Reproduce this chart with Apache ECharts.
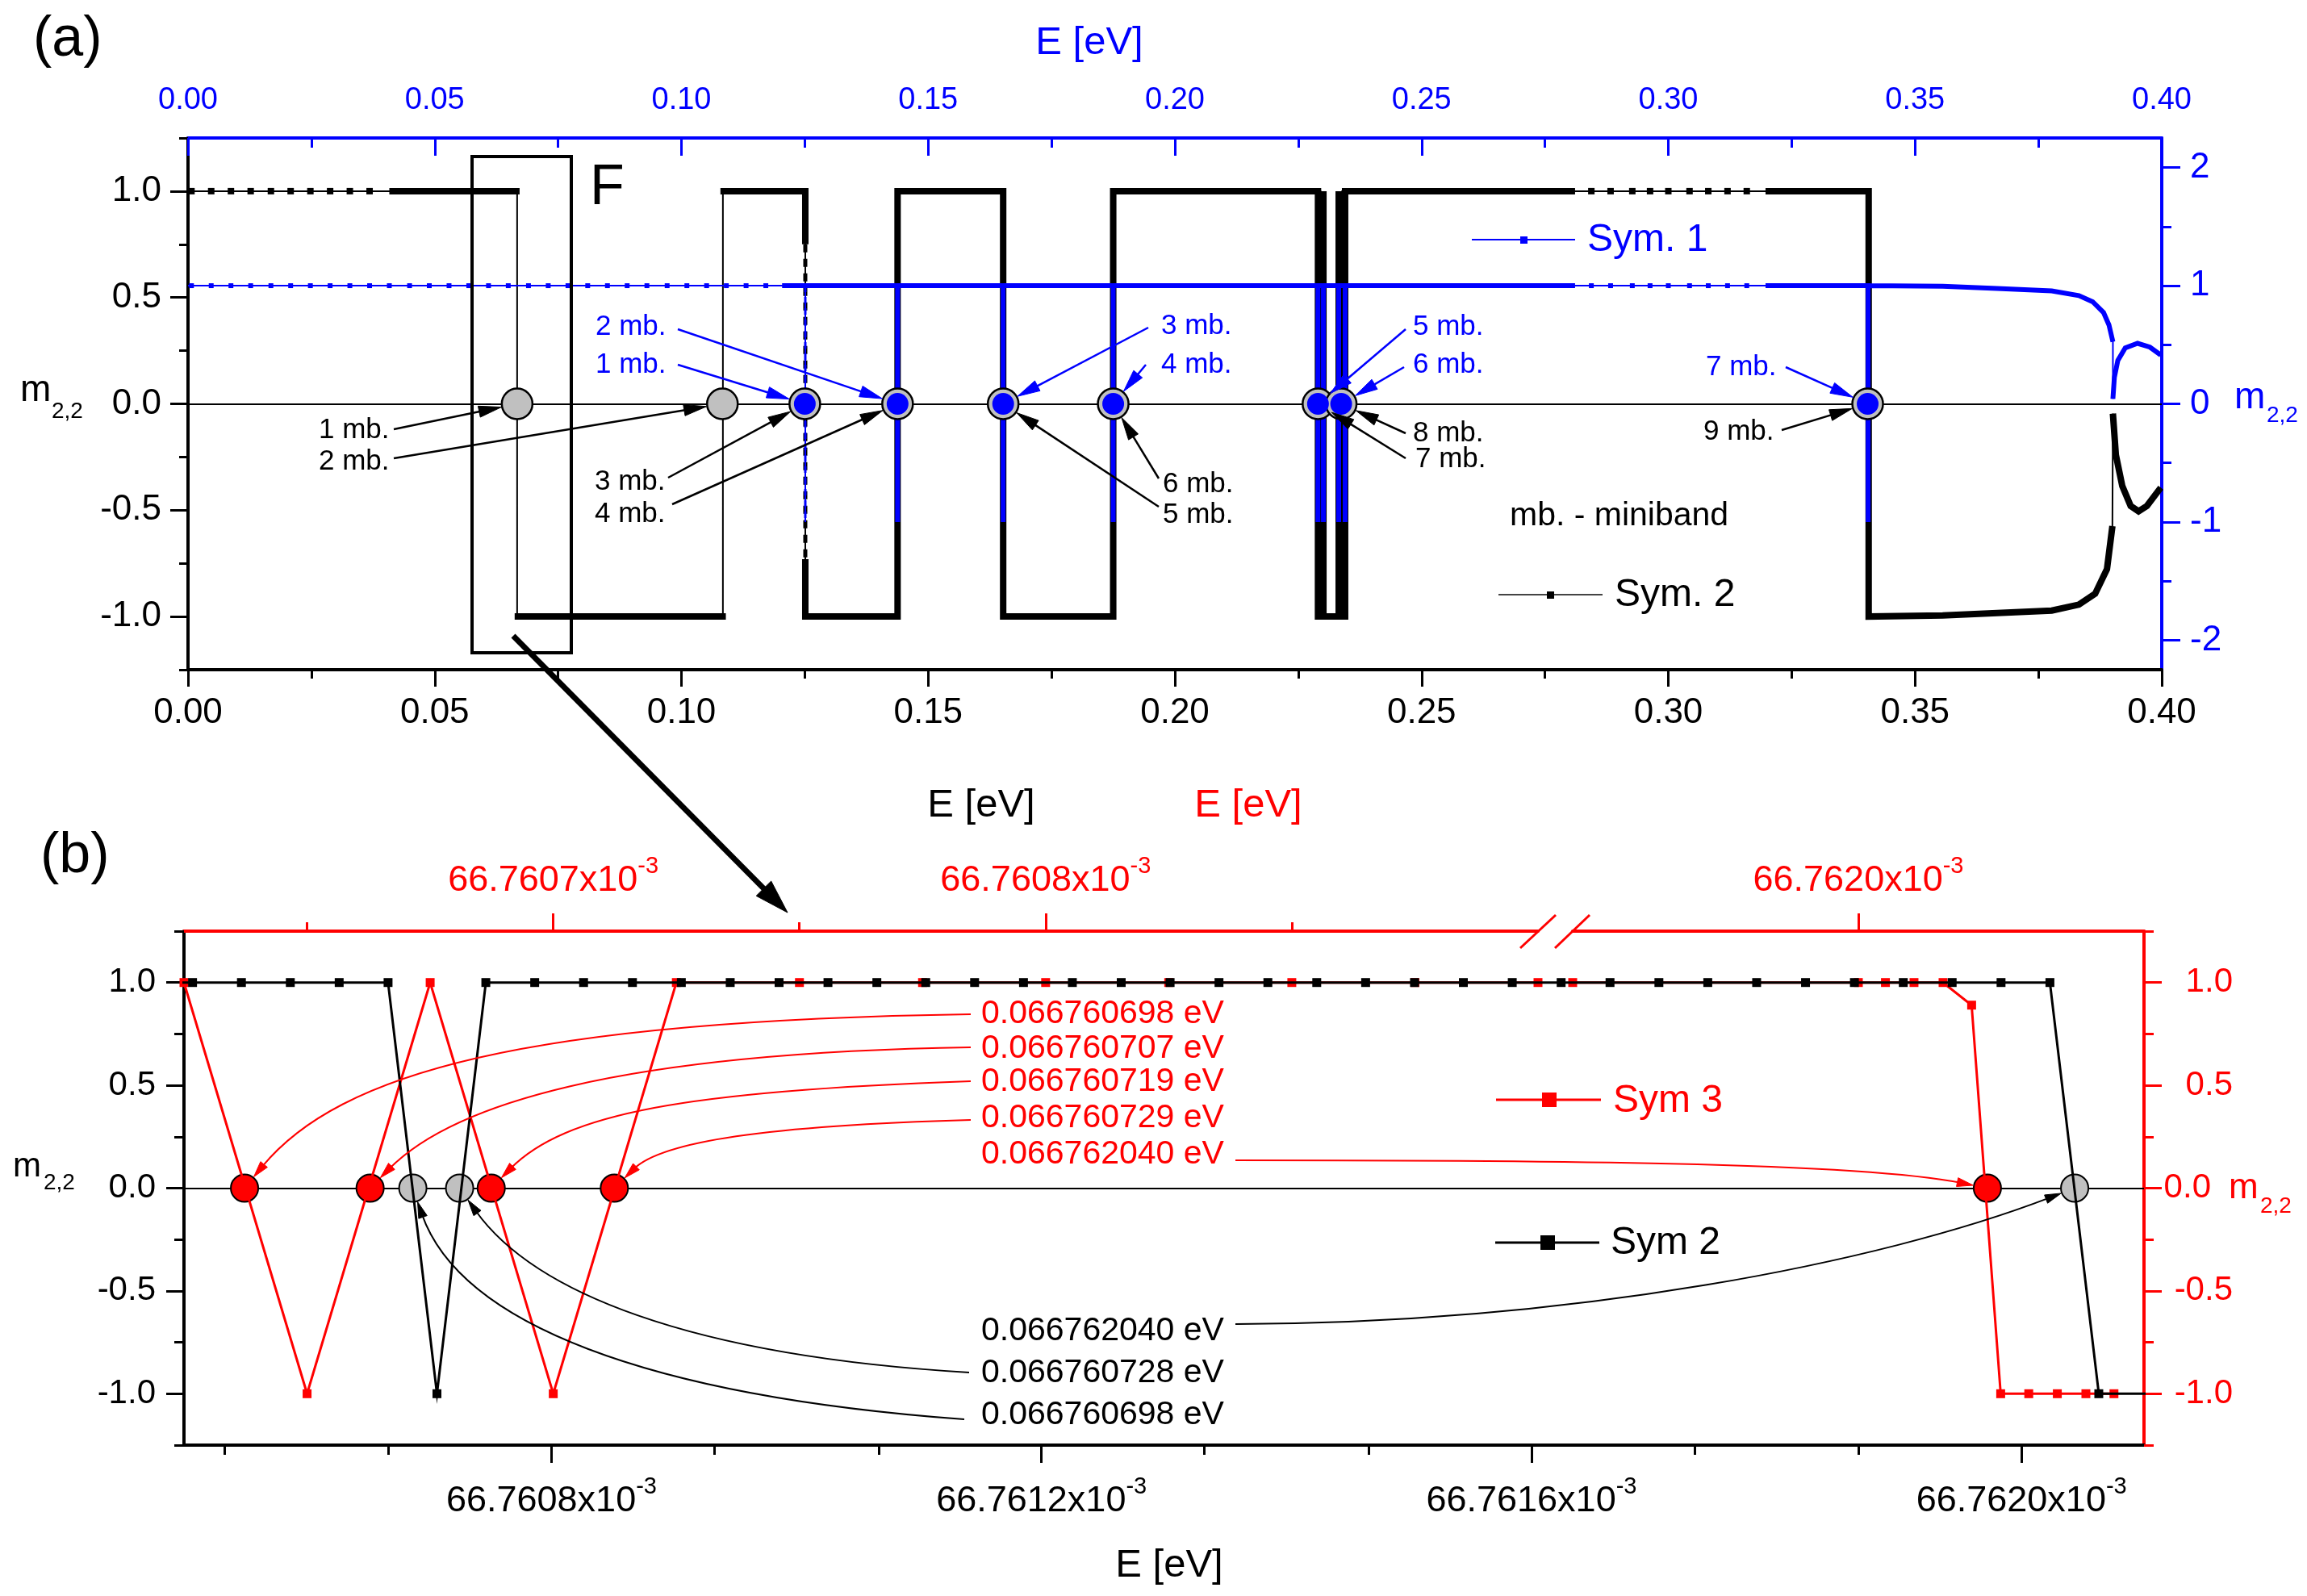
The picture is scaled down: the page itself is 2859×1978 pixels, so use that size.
<!DOCTYPE html>
<html>
<head>
<meta charset="utf-8">
<title>m22 vs E</title>
<script src="https://cdn.jsdelivr.net/npm/echarts@6.0.0/dist/echarts.min.js"></script>
<style>
html,body{margin:0;padding:0;background:#ffffff;}
#chart{width:2859px;height:1978px;}
</style>
</head>
<body>
<div id="chart"></div>
<script>
const FF = "'Liberation Sans', Arial, Helvetica, sans-serif";
const BLUE = '#0000ff', RED = '#ff0000', BLACK = '#000000', GRAY = '#c0c0c0';

// ================= Panel (a) =================
const aLeftTicks  = [-1, -0.5, 0, 0.5, 1];
const aLeftMinor  = [-1.25, -0.75, -0.25, 0.25, 0.75, 1.25];
const aRightTicks = [-2, -1, 0, 1, 2];
const aRightMinor = [-1.5, -0.5, 0.5, 1.5];

// Sym. 2 (black, left axis) - sparse squares
const sym2SparseE = [0.0007, 0.0047, 0.0087, 0.0127, 0.0168, 0.0208, 0.0248, 0.0288, 0.0328, 0.0368,
                     0.2844, 0.2883, 0.2927, 0.2963, 0.3000, 0.3043, 0.3081, 0.3120, 0.3159];
const sym2SparseM = [1, 1, 1, 1, 1, 1, 1, 1, 1, 1, 1, 1, 1, 1, 1, 1, 1, 1, 1];
// Sym. 2 full path (thin)
const sym2PathE = [0, 0.0667, 0.0667, 0.1084, 0.1084, 0.1251, 0.1251, 0.1438, 0.1438, 0.1652, 0.1652,
                   0.1875, 0.1875, 0.2295, 0.2295, 0.2339, 0.2339, 0.3406, 0.3406, 0.3556, 0.3777,
                   0.3832, 0.3865, 0.3889, 0.3900, 0.3901, 0.3907, 0.3920, 0.3937, 0.3953, 0.3970, 0.3998];
const sym2PathM = [1, 1, -1, -1, 1, 1, -1, -1, 1, 1, -1,
                   -1, 1, 1, -1, -1, 1, 1, -1, -0.995, -0.972,
                   -0.944, -0.893, -0.777, -0.575, -0.046, -0.24, -0.386, -0.48, -0.505, -0.48, -0.394];
// Sym. 2 dense (thick) stretches
const sym2ThickSegs = [
  {e: [0.0408, 0.0672], m: [1, 1]},
  {e: [0.0662, 0.1090], m: [-1, -1]},
  {e: [0.1079, 0.1251, 0.1251], m: [1, 1, 0.75]},
  {e: [0.1251, 0.1251, 0.1438, 0.1438, 0.1652, 0.1652, 0.1875, 0.1875, 0.2290, 0.2290, 0.2345, 0.2345, 0.2811],
   m: [-0.73, -1, -1, 1, 1, -1, -1, 1, 1, -1, -1, 1, 1]},
  {e: [0.2301, 0.2301], m: [1, -1]},
  {e: [0.2332, 0.2332], m: [-1, 1]},
  {e: [0.3197, 0.3406, 0.3406, 0.3556, 0.3777, 0.3832, 0.3865, 0.3889, 0.3900],
   m: [1, 1, -1, -0.995, -0.972, -0.944, -0.893, -0.777, -0.575]},
  {e: [0.3901, 0.3907, 0.3920, 0.3937, 0.3953, 0.3970, 0.3998],
   m: [-0.046, -0.24, -0.386, -0.48, -0.505, -0.48, -0.394]}
];
const sym2DashE = [0.1251, 0.1251];
const sym2DashM = [0.75, -0.73];

// Sym. 1 (blue, right axis)
const sym1SparseE = [0.0007, 0.0047, 0.0087, 0.0127, 0.0168, 0.0208, 0.0248, 0.0288, 0.0328, 0.0368,
                     0.0408, 0.0449, 0.0489, 0.0529, 0.0569, 0.0609, 0.0649, 0.0690, 0.0730, 0.0770,
                     0.0810, 0.0850, 0.0890, 0.0930, 0.0971, 0.1011, 0.1051, 0.1091, 0.1131, 0.1171,
                     0.2844, 0.2883, 0.2927, 0.2963, 0.3000, 0.3043, 0.3081, 0.3120, 0.3159];
const sym1SparseV = [1, 1, 1, 1, 1, 1, 1, 1, 1, 1, 1, 1, 1, 1, 1, 1, 1, 1, 1, 1,
                     1, 1, 1, 1, 1, 1, 1, 1, 1, 1, 1, 1, 1, 1, 1, 1, 1, 1, 1];
const sym1PathE = [0, 0.1251, 0.1251, 0.1251, 0.1438, 0.1438, 0.1438, 0.1652, 0.1652, 0.1652,
                   0.1875, 0.1875, 0.1875, 0.2290, 0.2290, 0.2290, 0.2301, 0.2301, 0.2301,
                   0.2332, 0.2332, 0.2332, 0.2345, 0.2345, 0.2345, 0.3405, 0.3405, 0.3405,
                   0.3556, 0.3666, 0.3777, 0.3832, 0.3860, 0.3882, 0.3893, 0.3901,
                   0.3901, 0.3904, 0.3911, 0.3926, 0.3951, 0.3976, 0.3998];
const sym1PathV = [1, 1, -1, 1, 1, -1, 1, 1, -1, 1,
                   1, -1, 1, 1, -1, 1, 1, -1, 1,
                   1, -1, 1, 1, -1, 1, 1, -1, 1,
                   0.995, 0.977, 0.956, 0.916, 0.864, 0.773, 0.668, 0.525,
                   0.042, 0.225, 0.368, 0.473, 0.512, 0.48, 0.413];
const sym1ThickSegs = [
  {e: [0.1204, 0.1438, 0.1438, 0.1438, 0.1652, 0.1652, 0.1652, 0.1875, 0.1875, 0.1875, 0.2290, 0.2290, 0.2290,
       0.2301, 0.2301, 0.2301, 0.2332, 0.2332, 0.2332, 0.2345, 0.2345, 0.2345, 0.2811],
   v: [1, 1, -1, 1, 1, -1, 1, 1, -1, 1, 1, -1, 1, 1, -1, 1, 1, -1, 1, 1, -1, 1, 1]},
  {e: [0.3197, 0.3405, 0.3405, 0.3405, 0.3556, 0.3666, 0.3777, 0.3832, 0.3860, 0.3882, 0.3893, 0.3901],
   v: [1, 1, -1, 1, 0.995, 0.977, 0.956, 0.916, 0.864, 0.773, 0.668, 0.525]},
  {e: [0.3901, 0.3904, 0.3911, 0.3926, 0.3951, 0.3976, 0.3998],
   v: [0.042, 0.225, 0.368, 0.473, 0.512, 0.48, 0.413]}
];
const sym1DashE = [0.1251, 0.1251];
const sym1DashV = [1, -1];

const aGrayCircleE = [0.0667, 0.1083];
const aBlueCircleE = [0.1250, 0.1438, 0.1652, 0.1875, 0.2290, 0.2337, 0.3404];

// annotations (a): text, text-left x, text-middle y, arrow tail, circle index
const aBlackNotes = [
  {t: '1 mb.', x: 395,  y: 533, tail: [488, 532],  gray: 0},
  {t: '2 mb.', x: 395,  y: 572, tail: [488, 568],  gray: 1},
  {t: '3 mb.', x: 737,  y: 597, tail: [828, 592],  blue: 0},
  {t: '4 mb.', x: 737,  y: 637, tail: [833, 625],  blue: 1},
  {t: '6 mb.', x: 1441, y: 600, tail: [1436, 593], blue: 3},
  {t: '5 mb.', x: 1441, y: 638, tail: [1436, 628], blue: 2},
  {t: '8 mb.', x: 1751, y: 537, tail: [1742, 537], blue: 5},
  {t: '7 mb.', x: 1754, y: 569, tail: [1742, 568], blue: 4},
  {t: '9 mb.', x: 2111, y: 535, tail: [2208, 533], blue: 6}
];
const aBlueNotes = [
  {t: '2 mb.', x: 738,  y: 405, tail: [840, 408],  blue: 1},
  {t: '1 mb.', x: 738,  y: 452, tail: [840, 452],  blue: 0},
  {t: '3 mb.', x: 1439, y: 404, tail: [1423, 406], blue: 2},
  {t: '4 mb.', x: 1439, y: 452, tail: [1420, 452], blue: 3},
  {t: '5 mb.', x: 1751, y: 405, tail: [1742, 408], blue: 4},
  {t: '6 mb.', x: 1751, y: 452, tail: [1740, 455], blue: 5},
  {t: '7 mb.', x: 2114, y: 455, tail: [2213, 455], blue: 6}
];

// ================= Panel (b) =================  (E in units of 10^-3 eV)
const bBottomTicks  = [66.7608, 66.7612, 66.7616, 66.7620];
const bBottomMinor  = [66.760533, 66.760667, 66.760933, 66.761067, 66.761333, 66.761467, 66.761733, 66.761867];
const bTopLeftTicks = [66.7607, 66.7608];
const bTopLeftMinor = [66.76065, 66.76075, 66.76085];
const bTopRightTicks = [66.7620];
const bYTicks = [-1, -0.5, 0, 0.5, 1];
const bYMinor = [-1.25, -0.75, -0.25, 0.25, 0.75, 1.25];

// Sym 2 (black, bottom axis)
const sym2bE = [66.7604671, 66.760507, 66.7605469, 66.7605868, 66.7606267, 66.7606666, 66.7607065, 66.7607464,
                66.7607863, 66.7608262, 66.7608661, 66.760906, 66.7609459, 66.7609858, 66.7610257, 66.7610656,
                66.7611055, 66.7611454, 66.7611853, 66.7612252, 66.7612651, 66.761305, 66.7613449, 66.7613848,
                66.7614247, 66.7614646, 66.7615045, 66.7615444, 66.7615843, 66.7616242, 66.7616641, 66.761704,
                66.7617439, 66.7617838, 66.7618237, 66.7618636, 66.7619035, 66.7619434, 66.7619833, 66.7620232,
                66.7620631, 66.762103];
const sym2bM = [1, 1, 1, 1, 1, 1, -1, 1,
                1, 1, 1, 1, 1, 1, 1, 1,
                1, 1, 1, 1, 1, 1, 1, 1,
                1, 1, 1, 1, 1, 1, 1, 1,
                1, 1, 1, 1, 1, 1, 1, 1,
                -1, -1];
// Sym 3 (red, top axis, two segments around the break)
const sym3LeftE = [66.760625, 66.76065, 66.760675, 66.7607, 66.760725, 66.76075, 66.760775, 66.7608,
                   66.760825, 66.76085, 66.760875, 66.7609];
const sym3LeftM = [1, -1, 1, -1, 1, 1, 1, 1, 1, 1, 1, 1];
const sym3RightE = [66.761942, 66.762, 66.7620055, 66.7620113, 66.7620172, 66.762023, 66.7620289,
                    66.7620346, 66.7620404, 66.7620462, 66.7620519];
const sym3RightM = [1, 1, 1, 1, 1, 0.89, -1, -1, -1, -1, -1];

const bRedCircleLeftE  = [66.7606373, 66.7606628, 66.7606874, 66.7607124];
const bRedCircleRightE = [66.7620262];
const bGrayCircleE     = [66.7606868, 66.760725, 66.7620434];

const bRedNotes   = ['0.066760698 eV', '0.066760707 eV', '0.066760719 eV', '0.066760729 eV', '0.066762040 eV'];
const bBlackNotes = ['0.066762040 eV', '0.066760728 eV', '0.066760698 eV'];

// ================= chart =================
const chart = echarts.init(document.getElementById('chart'), null, {renderer: 'canvas', width: 2859, height: 1978});
const pairs = (xs, ys) => xs.map((x, i) => [x, ys[i]]);

function lineS(data, xi, yi, color, width, z, extra) {
  return Object.assign({
    type: 'line', data: data, xAxisIndex: xi, yAxisIndex: yi, symbol: 'none', showSymbol: false,
    lineStyle: {color: color, width: width, cap: 'butt', join: 'miter'}, itemStyle: {color: color},
    z: z, silent: true, animation: false, clip: true
  }, extra || {});
}
function dotS(data, xi, yi, size, fill, border, bw, z, sym) {
  return {
    type: 'scatter', data: data, xAxisIndex: xi, yAxisIndex: yi, symbol: sym || 'circle', symbolSize: size,
    itemStyle: {color: fill, borderColor: border, borderWidth: bw, opacity: 1}, z: z, silent: true, animation: false
  };
}
function zeroLine(color) {
  return {silent: true, symbol: ['none', 'none'], z: 1, label: {show: false}, animation: false,
          lineStyle: {color: color, width: 2, type: 'solid'}, emphasis: {disabled: true}, data: [{yAxis: 0}]};
}
function sci(color) {
  return {
    formatter: v => '{a|' + v.toFixed(4) + 'x10}{s|-3}',
    rich: {
      a: {fontSize: 45, fontFamily: FF, color: color, lineHeight: 65},
      s: {fontSize: 29, fontFamily: FF, color: color, lineHeight: 29, verticalAlign: 'top'}
    }
  };
}
const noSplit = {splitLine: {show: false}, minorSplitLine: {show: false}, axisPointer: {show: false}};

function axis(o) { return Object.assign({type: 'value'}, noSplit, o); }
function minorAxis(gi, pos, min, max, vals, len, color, inside) {
  return axis({gridIndex: gi, position: pos, min: min, max: max,
    axisLine: {show: false, onZero: false},
    axisTick: {show: true, inside: !!inside, customValues: vals, length: len, lineStyle: {color: color, width: 3}},
    axisLabel: {show: false}});
}

const xAxis = [
  axis({gridIndex: 0, position: 'bottom', min: 0, max: 0.4, interval: 0.05,
    axisLine: {show: true, onZero: false, lineStyle: {color: BLACK, width: 4}},
    axisTick: {show: true, inside: false, length: 21, lineStyle: {color: BLACK, width: 3}},
    minorTick: {show: true, splitNumber: 2, length: 11, lineStyle: {color: BLACK, width: 3}},
    axisLabel: {show: true, margin: 32, fontSize: 44, fontFamily: FF, color: BLACK, formatter: v => v.toFixed(2)}}),
  axis({gridIndex: 0, position: 'top', min: 0, max: 0.4, interval: 0.05,
    axisLine: {show: true, onZero: false, lineStyle: {color: BLUE, width: 4}},
    axisTick: {show: true, inside: true, length: 22, lineStyle: {color: BLUE, width: 3}},
    minorTick: {show: true, splitNumber: 2, length: 12, lineStyle: {color: BLUE, width: 3}},
    axisLabel: {show: true, margin: 27, fontSize: 38, fontFamily: FF, color: BLUE, formatter: v => v.toFixed(2)}}),
  axis({gridIndex: 1, position: 'bottom', min: 66.7605, max: 66.7621,
    axisLine: {show: true, onZero: false, lineStyle: {color: BLACK, width: 4}},
    axisTick: {show: true, inside: false, customValues: bBottomTicks, length: 22, lineStyle: {color: BLACK, width: 3}},
    axisLabel: Object.assign({show: true, margin: 37, customValues: bBottomTicks}, sci(BLACK))}),
  minorAxis(1, 'bottom', 66.7605, 66.7621, bBottomMinor, 12, BLACK),
  axis({gridIndex: 2, position: 'top', min: 66.760625, max: 66.7609,
    axisLine: {show: true, onZero: false, lineStyle: {color: RED, width: 4}},
    axisTick: {show: true, inside: false, customValues: bTopLeftTicks, length: 22, lineStyle: {color: RED, width: 3}},
    axisLabel: Object.assign({show: true, margin: 30, customValues: bTopLeftTicks}, sci(RED))}),
  minorAxis(2, 'top', 66.760625, 66.7609, bTopLeftMinor, 11, RED),
  axis({gridIndex: 3, position: 'top', min: 66.761942, max: 66.762058,
    axisLine: {show: true, onZero: false, lineStyle: {color: RED, width: 4}},
    axisTick: {show: true, inside: false, customValues: bTopRightTicks, length: 22, lineStyle: {color: RED, width: 3}},
    axisLabel: Object.assign({show: true, margin: 30, customValues: bTopRightTicks}, sci(RED))})
];

const yAxis = [
  axis({gridIndex: 0, position: 'left', min: -1.25, max: 1.25,
    axisLine: {show: true, onZero: false, lineStyle: {color: BLACK, width: 4}},
    axisTick: {show: true, inside: false, customValues: aLeftTicks, length: 22, lineStyle: {color: BLACK, width: 3}},
    axisLabel: {show: true, customValues: aLeftTicks, margin: 33, fontSize: 44, fontFamily: FF, color: BLACK, formatter: v => v.toFixed(1)}}),
  minorAxis(0, 'left', -1.25, 1.25, aLeftMinor, 11, BLACK),
  axis({gridIndex: 0, position: 'right', min: -2.25, max: 2.25,
    axisLine: {show: true, onZero: false, lineStyle: {color: BLUE, width: 4}},
    axisTick: {show: true, inside: false, customValues: aRightTicks, length: 23, lineStyle: {color: BLUE, width: 3}},
    axisLabel: {show: true, customValues: aRightTicks, margin: 35, fontSize: 44, fontFamily: FF, color: BLUE, formatter: v => String(v)}}),
  minorAxis(0, 'right', -2.25, 2.25, aRightMinor, 12, BLUE),
  axis({gridIndex: 1, position: 'left', min: -1.25, max: 1.25,
    axisLine: {show: true, onZero: false, lineStyle: {color: BLACK, width: 4}},
    axisTick: {show: true, inside: false, customValues: bYTicks, length: 22, lineStyle: {color: BLACK, width: 3}},
    axisLabel: {show: true, customValues: bYTicks, margin: 35, fontSize: 42, fontFamily: FF, color: BLACK, formatter: v => v.toFixed(1)}}),
  minorAxis(1, 'left', -1.25, 1.25, bYMinor, 12, BLACK),
  axis({gridIndex: 1, position: 'right', min: -1.25, max: 1.25,
    axisLine: {show: true, onZero: false, lineStyle: {color: RED, width: 4}},
    axisTick: {show: true, inside: false, customValues: bYTicks, length: 22, lineStyle: {color: RED, width: 3}},
    axisLabel: {show: true, customValues: bYTicks, margin: 110, align: 'right', fontSize: 42, fontFamily: FF, color: RED,
      formatter: v => (Math.abs(v) < 1e-9 ? '{z|0.0}' : v.toFixed(1)),
      rich: {z: {fontSize: 42, fontFamily: FF, color: RED, padding: [0, 27, 0, 0]}}}}),
  minorAxis(1, 'right', -1.25, 1.25, bYMinor, 12, RED),
  axis({gridIndex: 2, show: false, min: -1.25, max: 1.25}),
  axis({gridIndex: 3, show: false, min: -1.25, max: 1.25})
];

const series = [];
// ---- (a) Sym. 2 black
series.push(lineS(pairs(sym2PathE, sym2PathM), 0, 0, BLACK, 2, 2, {markLine: zeroLine(BLACK)}));
sym2ThickSegs.forEach(s => series.push(lineS(pairs(s.e, s.m), 0, 0, BLACK, 8, 2)));
series.push(lineS(pairs(sym2DashE, sym2DashM), 0, 0, BLACK, 5, 2, {lineStyle: {color: BLACK, width: 5, type: [10, 8]}}));
series.push(dotS(pairs(sym2SparseE, sym2SparseM), 0, 0, 8, BLACK, BLACK, 0, 2, 'rect'));
// ---- (a) Sym. 1 blue
series.push(lineS(pairs(sym1PathE, sym1PathV), 1, 2, BLUE, 2, 3));
sym1ThickSegs.forEach(s => series.push(lineS(pairs(s.e, s.v), 1, 2, BLUE, 6, 3)));
series.push(lineS(pairs(sym1DashE, sym1DashV), 1, 2, BLUE, 3, 3, {lineStyle: {color: BLUE, width: 3, type: [8, 6]}}));
series.push(dotS(pairs(sym1SparseE, sym1SparseV), 1, 2, 6, BLUE, BLUE, 0, 3, 'rect'));
// ---- (a) circles
series.push(dotS(aGrayCircleE.map(e => [e, 0]), 0, 0, 38, GRAY, BLACK, 2.5, 6));
series.push(dotS(aBlueCircleE.map(e => [e, 0]), 0, 0, 38, GRAY, BLACK, 2.5, 6));
series.push(dotS(aBlueCircleE.map(e => [e, 0]), 0, 0, 27, BLUE, BLUE, 0, 7));

// ---- (b)
series.push(dotS(bGrayCircleE.map(e => [e, 0]), 2, 4, 34, GRAY, BLACK, 2, 2));
series.push(dotS(bRedCircleLeftE.map(e => [e, 0]), 4, 8, 34, RED, BLACK, 2, 2));
series.push(dotS(bRedCircleRightE.map(e => [e, 0]), 6, 9, 34, RED, BLACK, 2, 2));
series.push(lineS(pairs(sym3LeftE, sym3LeftM), 4, 8, RED, 3, 3,
  {symbol: 'rect', showSymbol: true, symbolSize: 11, itemStyle: {color: RED, borderWidth: 0}}));
series.push(lineS(pairs(sym3RightE, sym3RightM), 6, 9, RED, 3, 3,
  {symbol: 'rect', showSymbol: true, symbolSize: 11, itemStyle: {color: RED, borderWidth: 0}}));
series.push(lineS(pairs(sym2bE, sym2bM), 2, 4, BLACK, 3, 4,
  {symbol: 'rect', showSymbol: true, symbolSize: 11, itemStyle: {color: BLACK, borderWidth: 0}, markLine: zeroLine(BLACK)}));

const gridBase = {containLabel: false, outerBoundsMode: 'none', show: false};
chart.setOption({
  animation: false,
  backgroundColor: '#ffffff',
  textStyle: {fontFamily: FF},
  grid: [
    Object.assign({left: 233, top: 171, width: 2446, height: 659}, gridBase),
    Object.assign({left: 228, top: 1154, width: 2429, height: 637}, gridBase),
    Object.assign({left: 228, top: 1154, width: 1678, height: 637}, gridBase),
    Object.assign({left: 1949, top: 1154, width: 708, height: 637}, gridBase)
  ],
  xAxis: xAxis,
  yAxis: yAxis,
  series: series
});

// ================= annotations =================
function txt(text, x, y, size, color, align) {
  const a = align || 'left';
  return {type: 'text', x: x, y: y, z: 100, silent: true,
    style: {text: text, fontSize: size, fontFamily: FF, fill: color, align: a, verticalAlign: 'middle',
            textAlign: a, textVerticalAlign: 'middle'}};
}
function head(tip, ux, uy, hl, hw, color) {
  const bx = tip[0] - ux * hl, by = tip[1] - uy * hl;
  return {type: 'polygon', z: 100, silent: true,
    shape: {points: [[tip[0], tip[1]], [bx - uy * hw / 2, by + ux * hw / 2], [bx + uy * hw / 2, by - ux * hw / 2]]},
    style: {fill: color, stroke: color, lineWidth: 1}};
}
function arrow(p0, tip, color, w, hl, hw) {
  const dx = tip[0] - p0[0], dy = tip[1] - p0[1], L = Math.hypot(dx, dy), ux = dx / L, uy = dy / L;
  return [
    {type: 'line', z: 100, silent: true, shape: {x1: p0[0], y1: p0[1], x2: tip[0] - ux * hl * 0.8, y2: tip[1] - uy * hl * 0.8},
     style: {stroke: color, lineWidth: w, fill: 'none'}},
    head(tip, ux, uy, hl, hw, color)
  ];
}
function curveArrow(p0, c1, c2, tip, color, w, hl, hw) {
  const dx = tip[0] - c2[0], dy = tip[1] - c2[1], L = Math.hypot(dx, dy), ux = dx / L, uy = dy / L;
  const b = [tip[0] - ux * hl * 0.8, tip[1] - uy * hl * 0.8];
  return [
    {type: 'bezierCurve', z: 100, silent: true,
     shape: {x1: p0[0], y1: p0[1], x2: b[0], y2: b[1], cpx1: c1[0], cpy1: c1[1], cpx2: c2[0], cpy2: c2[1]},
     style: {stroke: color, lineWidth: w, fill: 'none'}},
    head(tip, ux, uy, hl, hw, color)
  ];
}
function edgeToward(center, from, r) {
  const dx = from[0] - center[0], dy = from[1] - center[1], L = Math.hypot(dx, dy);
  return [center[0] + dx / L * r, center[1] + dy / L * r];
}
const px = (xi, yi, x, y) => chart.convertToPixel({xAxisIndex: xi, yAxisIndex: yi}, [x, y]);

const G = [];
// panel labels and axis titles
G.push(txt('(a)', 41, 50, 70, BLACK));
G.push(txt('(b)', 50, 1062, 70, BLACK));
G.push(txt('E [eV]', 1350, 53, 49, BLUE, 'center'));
G.push(txt('E [eV]', 1216, 998, 49, BLACK, 'center'));
G.push(txt('E [eV]', 1547, 998, 49, RED, 'center'));
G.push(txt('E [eV]', 1449, 1940, 49, BLACK, 'center'));
// m_{2,2}
G.push(txt('m', 25, 484, 46, BLACK));   G.push(txt('2,2', 64, 510, 28, BLACK));
G.push(txt('m', 2769, 493, 46, BLUE));  G.push(txt('2,2', 2809, 515, 28, BLUE));
G.push(txt('m', 16, 1446, 42, BLACK));  G.push(txt('2,2', 54, 1466, 28, BLACK));
G.push(txt('m', 2762, 1473, 44, RED));  G.push(txt('2,2', 2801, 1495, 28, RED));

// F box and zoom arrow
G.push({type: 'rect', z: 90, silent: true, shape: {x: 585, y: 194, width: 123, height: 615}, style: {fill: 'none', stroke: BLACK, lineWidth: 4}});
G.push(txt('F', 731, 234, 70, BLACK));
arrow([636, 788], [976, 1131], BLACK, 7, 42, 26).forEach(e => G.push(e));

// (a) annotations
const aGrayPx = aGrayCircleE.map(e => px(0, 0, e, 0));
const aBluePx = aBlueCircleE.map(e => px(0, 0, e, 0));
aBlackNotes.forEach(n => {
  G.push(txt(n.t, n.x, n.y, 35, BLACK));
  const c = n.gray !== undefined ? aGrayPx[n.gray] : aBluePx[n.blue];
  arrow(n.tail, edgeToward(c, n.tail, 20), BLACK, 2.5, 28, 14).forEach(e => G.push(e));
});
aBlueNotes.forEach(n => {
  G.push(txt(n.t, n.x, n.y, 35, BLUE));
  const c = aBluePx[n.blue];
  arrow(n.tail, edgeToward(c, n.tail, 20), BLUE, 2.5, 28, 14).forEach(e => G.push(e));
});
G.push(txt('mb. - miniband', 1871, 640, 41, BLACK));
// legend (a)
G.push({type: 'line', z: 100, silent: true, shape: {x1: 1824, y1: 297, x2: 1952, y2: 297}, style: {stroke: BLUE, lineWidth: 2}});
G.push({type: 'rect', z: 101, silent: true, shape: {x: 1884, y: 293, width: 9, height: 9}, style: {fill: BLUE}});
G.push(txt('Sym. 1', 1967, 298, 48, BLUE));
G.push({type: 'line', z: 100, silent: true, shape: {x1: 1857, y1: 737, x2: 1986, y2: 737}, style: {stroke: '#444444', lineWidth: 2}});
G.push({type: 'rect', z: 101, silent: true, shape: {x: 1917, y: 733, width: 9, height: 9}, style: {fill: BLACK}});
G.push(txt('Sym. 2', 2001, 738, 48, BLACK));

// (b) break marks on top axis
G.push({type: 'line', z: 100, silent: true, shape: {x1: 1884, y1: 1175, x2: 1928, y2: 1134}, style: {stroke: RED, lineWidth: 3}});
G.push({type: 'line', z: 100, silent: true, shape: {x1: 1927, y1: 1175, x2: 1970, y2: 1134}, style: {stroke: RED, lineWidth: 3}});

// (b) notes
const redLPx = bRedCircleLeftE.map(e => px(4, 8, e, 0));
const redRPx = bRedCircleRightE.map(e => px(6, 9, e, 0));
const grayBPx = bGrayCircleE.map(e => px(2, 4, e, 0));
const redY = [1257, 1300, 1341, 1386, 1431];
bRedNotes.forEach((t, i) => G.push(txt(t, 1216, redY[i], 41, RED)));
const blackY = [1650, 1702, 1754];
bBlackNotes.forEach((t, i) => G.push(txt(t, 1216, blackY[i], 41, BLACK)));
const redCurves = [
  {p0: [1203, 1257], c1: [650, 1265], c2: [420, 1330], c: redLPx[0]},
  {p0: [1203, 1298], c1: [760, 1305], c2: [560, 1370], c: redLPx[1]},
  {p0: [1203, 1340], c1: [850, 1352], c2: [700, 1380], c: redLPx[2]},
  {p0: [1203, 1388], c1: [950, 1395], c2: [820, 1415], c: redLPx[3]},
  {p0: [1531, 1438], c1: [1900, 1438], c2: [2300, 1440], c: redRPx[0]}
];
redCurves.forEach(k => curveArrow(k.p0, k.c1, k.c2, edgeToward(k.c, k.c2, 18), RED, 2, 20, 11).forEach(e => G.push(e)));
const blackCurves = [
  {p0: [1531, 1641], c1: [1950, 1640], c2: [2330, 1565], c: grayBPx[2]},
  {p0: [1201, 1701], c1: [850, 1680], c2: [660, 1600], c: grayBPx[1]},
  {p0: [1195, 1759], c1: [800, 1730], c2: [570, 1640], c: grayBPx[0]}
];
blackCurves.forEach(k => curveArrow(k.p0, k.c1, k.c2, edgeToward(k.c, k.c2, 18), BLACK, 2, 20, 11).forEach(e => G.push(e)));
// legend (b)
G.push({type: 'line', z: 100, silent: true, shape: {x1: 1854, y1: 1363, x2: 1984, y2: 1363}, style: {stroke: RED, lineWidth: 3}});
G.push({type: 'rect', z: 101, silent: true, shape: {x: 1911, y: 1354, width: 18, height: 18}, style: {fill: RED}});
G.push(txt('Sym 3', 1999, 1365, 48, RED));
G.push({type: 'line', z: 100, silent: true, shape: {x1: 1853, y1: 1540, x2: 1982, y2: 1540}, style: {stroke: BLACK, lineWidth: 3}});
G.push({type: 'rect', z: 101, silent: true, shape: {x: 1909, y: 1531, width: 18, height: 18}, style: {fill: BLACK}});
G.push(txt('Sym 2', 1996, 1541, 48, BLACK));

chart.setOption({graphic: {elements: G}});
</script>
</body>
</html>
